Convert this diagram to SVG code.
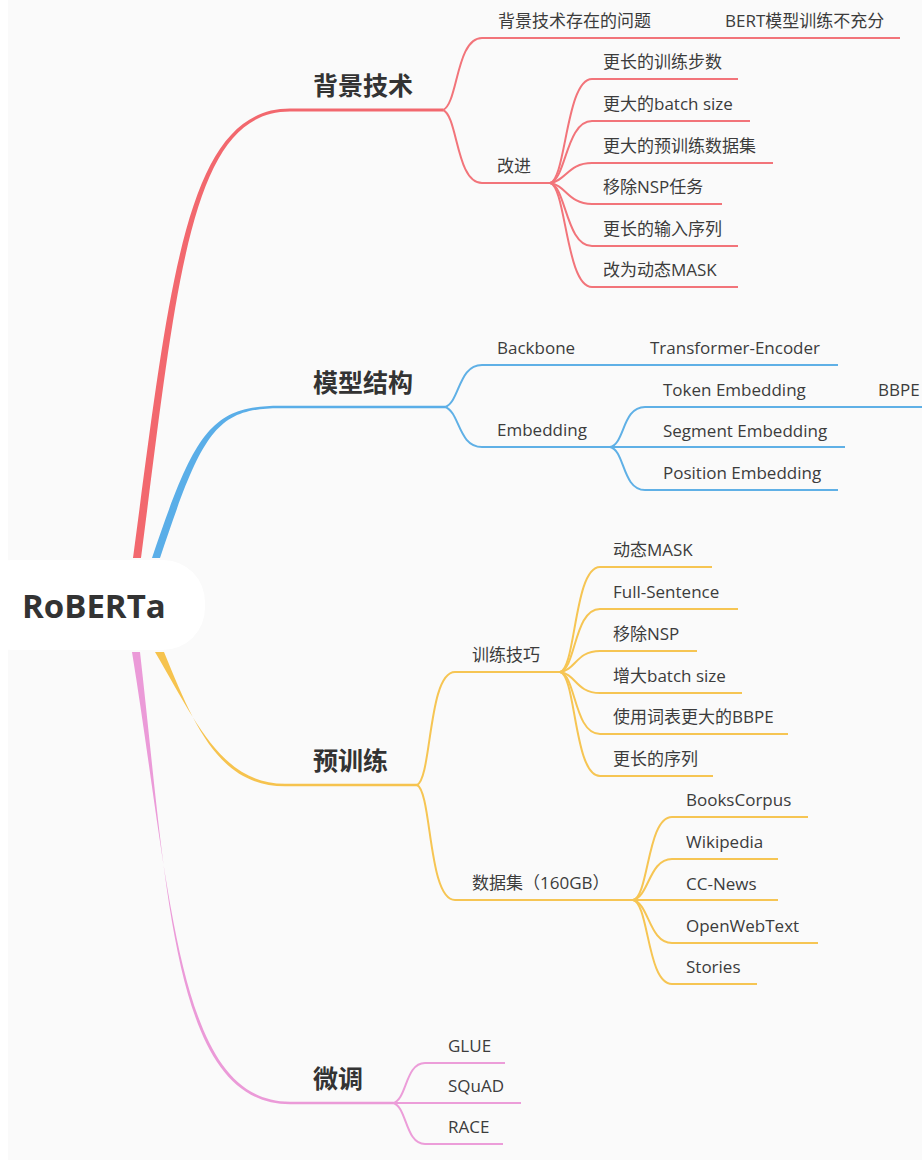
<svg xmlns="http://www.w3.org/2000/svg" width="922" height="1160" viewBox="0 0 922 1160">
<style>
.bg{fill:#fafafa}
.t1{font-family:"Open Sans","Noto Sans CJK SC",sans-serif;font-size:25px;font-weight:bold;fill:#333}
.t2{font-family:"Open Sans","Noto Sans CJK SC",sans-serif;font-size:17px;fill:#3c3c3c}
.root{font-family:"Open Sans","Noto Sans CJK SC",sans-serif;font-size:33px;font-weight:bold;fill:#333}
.r{stroke:#f2747a;stroke-width:2;fill:none}
.b{stroke:#5fb0e6;stroke-width:2;fill:none}
.y{stroke:#f6c553;stroke-width:2;fill:none}
.p{stroke:#ec9dd9;stroke-width:2;fill:none}
</style>
<rect class="bg" x="0" y="0" width="922" height="1160"/>
<rect x="0" y="0" width="8" height="1160" fill="#ffffff"/>
<g id="connectors">
  <path d="M133,558 C170,280 186,108.6 290,108.6 L443,108.6 L443,111.4 L290,111.4 C190,111.4 177,280 141,558 Z" fill="#f2686e"/>
  <path d="M152,558 C195,430 212,405.8 280,405.8 L445,405.8 L445,408.2 L280,408.2 C216,408.2 202,432 160,558 Z" fill="#5aaee8"/>
  <path d="M155,652 C196,722 222,783.8 285,783.8 L417,783.8 L417,786.2 L285,786.2 C220,786.2 195,728 164,652 Z" fill="#f6c34e"/>
  <path d="M132,652 C172,900 178,1101.8 290,1101.8 L393,1101.8 L393,1104.2 L290,1104.2 C174,1104.2 168,900 140,652 Z" fill="#eb9ad8"/>
  <path class="r" d="M443,110 C458,104 456,38 482,38 L900,38"/>
  <path class="r" d="M443,110 C458,116 456,183 482,183 L550,183"/>
  <path class="r" d="M550,183 C566,180 566,79 592,79 L738,79"/>
  <path class="r" d="M550,183 C566,180 566,121 592,121 L750,121"/>
  <path class="r" d="M550,183 C566,181 568,163 592,163 L773,163"/>
  <path class="r" d="M550,183 C566,185 568,204 592,204 L722,204"/>
  <path class="r" d="M550,183 C566,186 566,246 592,246 L738,246"/>
  <path class="r" d="M550,183 C566,186 566,287 592,287 L738,287"/>
  <path class="b" d="M445,407 C460,402 458,365 482,365 L838,365"/>
  <path class="b" d="M445,407 C460,412 458,447 482,447 L610,447"/>
  <path class="b" d="M610,447 C625,444 622,407 645,407 L922,407"/>
  <path class="b" d="M610,447 L845,447"/>
  <path class="b" d="M610,447 C625,450 622,490 645,490 L838,490"/>
  <path class="y" d="M417,785 C432,778 428,672 455,672 L560,672"/>
  <path class="y" d="M417,785 C432,792 428,900 455,900 L633,900"/>
  <path class="y" d="M560,672 C576,669 574,567 600,567 L712,567"/>
  <path class="y" d="M560,672 C576,669 574,609 600,609 L738,609"/>
  <path class="y" d="M560,672 C576,670 576,651 600,651 L697,651"/>
  <path class="y" d="M560,672 C576,674 576,693 600,693 L742,693"/>
  <path class="y" d="M560,672 C576,675 574,734 600,734 L788,734"/>
  <path class="y" d="M560,672 C576,675 574,776 600,776 L713,776"/>
  <path class="y" d="M633,900 C649,897 647,817 672,817 L808,817"/>
  <path class="y" d="M633,900 C649,897 649,859 672,859 L778,859"/>
  <path class="y" d="M633,900 L778,900"/>
  <path class="y" d="M633,900 C649,903 649,943 672,943 L818,943"/>
  <path class="y" d="M633,900 C649,903 647,984 672,984 L757,984"/>
  <path class="p" d="M393,1103 C407,1100 405,1063 425,1063 L505,1063"/>
  <path class="p" d="M393,1103 L521,1103"/>
  <path class="p" d="M393,1103 C407,1106 405,1144 425,1144 L503,1144"/>
</g>
<g id="root">
  <rect x="-30" y="560" width="235" height="90" rx="42" fill="#ffffff"/>
  <text class="root" x="22" y="618">RoBERTa</text>
</g>
<g id="bg-tech"><text class="t1" x="313" y="95">背景技术</text></g>
<g id="bg-problem"><text class="t2" x="498" y="27">背景技术存在的问题</text></g>
<g id="bg-problem-1"><text class="t2" x="725" y="27">BERT模型训练不充分</text></g>
<g id="bg-improve"><text class="t2" x="497" y="172">改进</text></g>
<g id="imp-1"><text class="t2" x="603" y="68">更长的训练步数</text></g>
<g id="imp-2"><text class="t2" x="603" y="110">更大的batch size</text></g>
<g id="imp-3"><text class="t2" x="603" y="152">更大的预训练数据集</text></g>
<g id="imp-4"><text class="t2" x="603" y="193">移除NSP任务</text></g>
<g id="imp-5"><text class="t2" x="603" y="235">更长的输入序列</text></g>
<g id="imp-6"><text class="t2" x="603" y="276">改为动态MASK</text></g>
<g id="model"><text class="t1" x="313" y="392">模型结构</text></g>
<g id="backbone"><text class="t2" x="497" y="354">Backbone</text></g>
<g id="transformer"><text class="t2" x="650" y="354">Transformer-Encoder</text></g>
<g id="embedding"><text class="t2" x="497" y="436">Embedding</text></g>
<g id="token-emb"><text class="t2" x="663" y="396">Token Embedding</text></g>
<g id="bbpe"><text class="t2" x="878" y="396">BBPE</text></g>
<g id="segment-emb"><text class="t2" x="663" y="437">Segment Embedding</text></g>
<g id="position-emb"><text class="t2" x="663" y="479">Position Embedding</text></g>
<g id="pretrain"><text class="t1" x="313" y="770">预训练</text></g>
<g id="tricks"><text class="t2" x="472" y="661">训练技巧</text></g>
<g id="trick-1"><text class="t2" x="613" y="556">动态MASK</text></g>
<g id="trick-2"><text class="t2" x="613" y="598">Full-Sentence</text></g>
<g id="trick-3"><text class="t2" x="613" y="640">移除NSP</text></g>
<g id="trick-4"><text class="t2" x="613" y="682">增大batch size</text></g>
<g id="trick-5"><text class="t2" x="613" y="723">使用词表更大的BBPE</text></g>
<g id="trick-6"><text class="t2" x="613" y="765">更长的序列</text></g>
<g id="dataset"><text class="t2" x="472" y="889">数据集（160GB）</text></g>
<g id="ds-1"><text class="t2" x="686" y="806">BooksCorpus</text></g>
<g id="ds-2"><text class="t2" x="686" y="848">Wikipedia</text></g>
<g id="ds-3"><text class="t2" x="686" y="890">CC-News</text></g>
<g id="ds-4"><text class="t2" x="686" y="932">OpenWebText</text></g>
<g id="ds-5"><text class="t2" x="686" y="973">Stories</text></g>
<g id="finetune"><text class="t1" x="313" y="1088">微调</text></g>
<g id="ft-1"><text class="t2" x="448" y="1052">GLUE</text></g>
<g id="ft-2"><text class="t2" x="448" y="1092">SQuAD</text></g>
<g id="ft-3"><text class="t2" x="448" y="1133">RACE</text></g>
</svg>
